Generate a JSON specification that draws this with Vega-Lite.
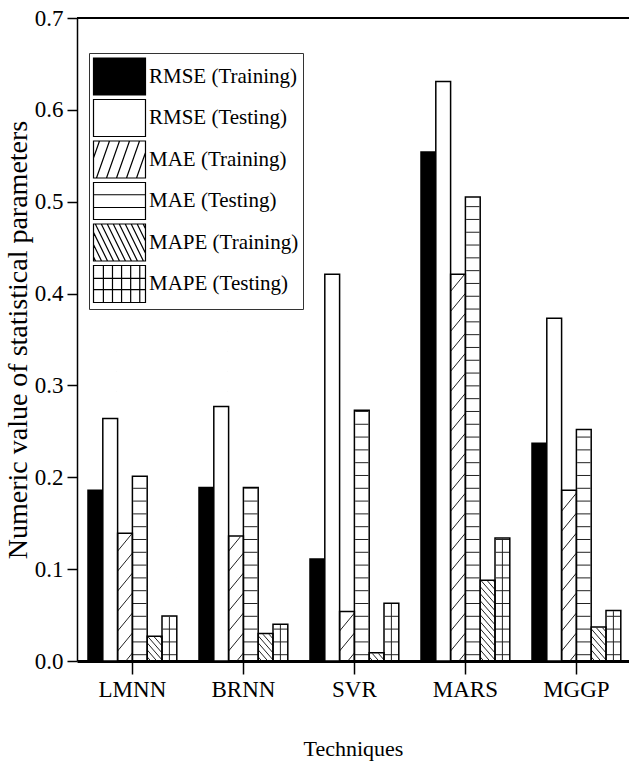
{
  "$schema": "https://vega.github.io/schema/vega-lite/v6.json",
  "autosize": {"type": "none"},
  "padding": {"left": 77, "top": 18, "right": 0, "bottom": 106},
  "width": 552,
  "height": 643,
  "background": "white",
  "config": {
    "font": "Liberation Serif",
    "view": {"stroke": null},
    "axis": {
      "grid": false,
      "domainColor": "black",
      "tickColor": "black",
      "labelColor": "black",
      "titleColor": "black",
      "titleFontWeight": "normal",
      "zindex": 1
    }
  },
  "data": {
    "values": [
      {"technique": "LMNN", "series": "RMSE (Training)", "value": 0.186},
      {"technique": "LMNN", "series": "RMSE (Testing)", "value": 0.264},
      {"technique": "LMNN", "series": "MAE (Training)", "value": 0.139},
      {"technique": "LMNN", "series": "MAE (Testing)", "value": 0.201},
      {"technique": "LMNN", "series": "MAPE (Training)", "value": 0.027},
      {"technique": "LMNN", "series": "MAPE (Testing)", "value": 0.049},
      {"technique": "BRNN", "series": "RMSE (Training)", "value": 0.189},
      {"technique": "BRNN", "series": "RMSE (Testing)", "value": 0.277},
      {"technique": "BRNN", "series": "MAE (Training)", "value": 0.136},
      {"technique": "BRNN", "series": "MAE (Testing)", "value": 0.189},
      {"technique": "BRNN", "series": "MAPE (Training)", "value": 0.030},
      {"technique": "BRNN", "series": "MAPE (Testing)", "value": 0.040},
      {"technique": "SVR", "series": "RMSE (Training)", "value": 0.111},
      {"technique": "SVR", "series": "RMSE (Testing)", "value": 0.421},
      {"technique": "SVR", "series": "MAE (Training)", "value": 0.054},
      {"technique": "SVR", "series": "MAE (Testing)", "value": 0.273},
      {"technique": "SVR", "series": "MAPE (Training)", "value": 0.009},
      {"technique": "SVR", "series": "MAPE (Testing)", "value": 0.063},
      {"technique": "MARS", "series": "RMSE (Training)", "value": 0.554},
      {"technique": "MARS", "series": "RMSE (Testing)", "value": 0.631},
      {"technique": "MARS", "series": "MAE (Training)", "value": 0.421},
      {"technique": "MARS", "series": "MAE (Testing)", "value": 0.505},
      {"technique": "MARS", "series": "MAPE (Training)", "value": 0.088},
      {"technique": "MARS", "series": "MAPE (Testing)", "value": 0.134},
      {"technique": "MGGP", "series": "RMSE (Training)", "value": 0.237},
      {"technique": "MGGP", "series": "RMSE (Testing)", "value": 0.373},
      {"technique": "MGGP", "series": "MAE (Training)", "value": 0.186},
      {"technique": "MGGP", "series": "MAE (Testing)", "value": 0.252},
      {"technique": "MGGP", "series": "MAPE (Training)", "value": 0.037},
      {"technique": "MGGP", "series": "MAPE (Testing)", "value": 0.055}
    ]
  },
  "layer": [
    {
      "transform": [{"filter": {"field": "series", "oneOf": ["MAE (Training)", "MAE (Testing)", "MAPE (Training)", "MAPE (Testing)"]}}],
      "mark": {"type": "point", "filled": false, "stroke": "#222", "strokeWidth": 1, "size": 219.04, "opacity": 1, "clip": true},
      "encoding": {
        "x": {"field": "technique", "type": "nominal", "sort": ["LMNN", "BRNN", "SVR", "MARS", "MGGP"]},
        "xOffset": {"field": "series", "type": "nominal", "sort": ["RMSE (Training)", "RMSE (Testing)", "MAE (Training)", "MAE (Testing)", "MAPE (Training)", "MAPE (Testing)"]},
        "y": {"datum": 0, "type": "quantitative"},
        "shape": {
          "field": "series",
          "type": "nominal",
          "legend": null,
          "scale": {
            "domain": ["MAE (Training)", "MAE (Testing)", "MAPE (Training)", "MAPE (Testing)"],
            "range": [
              "M0.11,0L1,-1.08M-1,-1.35L1,-3.78M-1,-4.05L1,-6.48M-1,-6.75L1,-9.18M-1,-9.45L1,-11.88M-1,-12.15L1,-14.58M-1,-14.85L1,-17.28M-1,-17.55L1,-19.98M-1,-20.25L1,-22.68M-1,-22.95L1,-25.38M-1,-25.65L1,-28.08M-1,-28.35L1,-30.78M-1,-31.05L1,-33.48M-1,-33.75L1,-36.18M-1,-36.45L1,-38.88M-1,-39.15L1,-41.58M-1,-41.85L1,-44.28M-1,-44.55L1,-46.98M-1,-47.25L1,-49.68M-1,-49.95L1,-52.38M-1,-52.65L1,-55.08M-1,-55.35L1,-57.78",
              "M-1,-0.85L1,-0.85M-1,-2.58L1,-2.58M-1,-4.31L1,-4.31M-1,-6.04L1,-6.04M-1,-7.77L1,-7.77M-1,-9.5L1,-9.5M-1,-11.23L1,-11.23M-1,-12.96L1,-12.96M-1,-14.69L1,-14.69M-1,-16.42L1,-16.42M-1,-18.15L1,-18.15M-1,-19.88L1,-19.88M-1,-21.61L1,-21.61M-1,-23.34L1,-23.34M-1,-25.07L1,-25.07M-1,-26.8L1,-26.8M-1,-28.53L1,-28.53M-1,-30.26L1,-30.26M-1,-31.99L1,-31.99M-1,-33.72L1,-33.72M-1,-35.45L1,-35.45M-1,-37.18L1,-37.18M-1,-38.91L1,-38.91M-1,-40.64L1,-40.64M-1,-42.37L1,-42.37M-1,-44.1L1,-44.1M-1,-45.83L1,-45.83M-1,-47.56L1,-47.56M-1,-49.29L1,-49.29M-1,-51.02L1,-51.02M-1,-52.75L1,-52.75M-1,-54.48L1,-54.48M-1,-56.21L1,-56.21M-1,-57.94L1,-57.94M-1,-59.67L1,-59.67M-1,-61.4L1,-61.4M-1,-63.13L1,-63.13M-1,-64.86L1,-64.86",
              "M-1,-0.55L-0.52,0M-1,-1.5L0.3,0M-1,-2.45L1,-0.15M-1,-3.4L1,-1.1M-1,-4.35L1,-2.05M-1,-5.3L1,-3M-1,-6.25L1,-3.95M-1,-7.2L1,-4.9M-1,-8.15L1,-5.85M-1,-9.1L1,-6.8M-1,-10.05L1,-7.75M-1,-11L1,-8.7M-1,-11.95L1,-9.65M-1,-12.9L1,-10.6M-1,-13.85L1,-11.55",
              "M-1,-0.85L1,-0.85M-1,-2.58L1,-2.58M-1,-4.31L1,-4.31M-1,-6.04L1,-6.04M-1,-7.77L1,-7.77M-1,-9.5L1,-9.5M-1,-11.23L1,-11.23M-1,-12.96L1,-12.96M-1,-14.69L1,-14.69M-1,-16.42L1,-16.42M-1,-18.15L1,-18.15M0,0L0,-18.2"
            ]
          }
        }
      }
    },
    {
      "transform": [{"filter": {"field": "series", "oneOf": ["MAE (Training)", "MAE (Testing)", "MAPE (Training)", "MAPE (Testing)"]}}],
      "mark": {"type": "bar", "fill": "white", "stroke": "white", "strokeWidth": 1.5},
      "encoding": {
        "x": {"field": "technique", "type": "nominal", "sort": ["LMNN", "BRNN", "SVR", "MARS", "MGGP"]},
        "xOffset": {"field": "series", "type": "nominal", "sort": ["RMSE (Training)", "RMSE (Testing)", "MAE (Training)", "MAE (Testing)", "MAPE (Training)", "MAPE (Testing)"]},
        "y": {"field": "value", "type": "quantitative"},
        "y2": {"datum": 0.69}
      }
    },
    {
      "mark": {"type": "bar", "stroke": "black", "strokeWidth": 1.5},
      "encoding": {
        "x": {
          "field": "technique",
          "type": "nominal",
          "sort": ["LMNN", "BRNN", "SVR", "MARS", "MGGP"],
          "scale": {"paddingInner": 0.2, "paddingOuter": 0.0865, "align": 0.573},
          "axis": {
            "title": "Techniques",
            "labelAngle": 0,
            "labelAlign": "center",
            "labelBaseline": "top",
            "tickSize": 13,
            "tickWidth": 1.5,
            "domainWidth": 3,
            "labelFontSize": 23,
            "labelPadding": 4,
            "titleFontSize": 22,
            "titlePadding": 37
          }
        },
        "xOffset": {
          "field": "series",
          "type": "nominal",
          "sort": ["RMSE (Training)", "RMSE (Testing)", "MAE (Training)", "MAE (Testing)", "MAPE (Training)", "MAPE (Testing)"],
          "scale": {"paddingInner": 0, "paddingOuter": 0}
        },
        "y": {
          "field": "value",
          "type": "quantitative",
          "scale": {"domain": [0, 0.7], "nice": false},
          "axis": {
            "title": "Numeric value of statistical parameters",
            "values": [0, 0.1, 0.2, 0.3, 0.4, 0.5, 0.6, 0.7],
            "format": ".1f",
            "tickSize": 10,
            "tickWidth": 1.5,
            "domainWidth": 1.5,
            "labelFontSize": 23,
            "labelPadding": 4,
            "titleFontSize": 28,
            "titlePadding": 2
          }
        },
        "fill": {
          "field": "series",
          "type": "nominal",
          "scale": {
            "domain": ["RMSE (Training)", "RMSE (Testing)", "MAE (Training)", "MAE (Testing)", "MAPE (Training)", "MAPE (Testing)"],
            "range": ["#000000", "#ffffff", "transparent", "transparent", "transparent", "transparent"]
          },
          "legend": {
            "title": null,
            "orient": "none",
            "legendX": 12,
            "legendY": 35,
            "direction": "vertical",
            "padding": 4,
            "strokeColor": "#333",
            "fillColor": "white",
            "symbolSize": 1369,
            "symbolOffset": 7,
            "symbolStrokeColor": "black",
            "symbolStrokeWidth": 1.2,
            "labelFontSize": 21,
            "labelColor": "black",
            "labelOffset": 10,
            "labelLimit": 400,
            "rowPadding": -1.5,
            "encode": {
              "symbols": {
                "update": {
                  "shape": [
                    {"test": "datum.value === 'MAE (Training)'", "value": "M-1.405,-1L1.405,-1L1.405,1L-1.405,1ZM-1.405,-0.084L-1.082,-1M-1.244,1L-0.541,-1M-0.703,1L0,-1M-0.162,1L0.541,-1M0.379,1L1.082,-1M0.921,1L1.405,-0.379"},
                    {"test": "datum.value === 'MAE (Testing)'", "value": "M-1.405,-1L1.405,-1L1.405,1L-1.405,1ZM-1.405,-0.337L1.405,-0.337M-1.405,0.351L1.405,0.351"},
                    {"test": "datum.value === 'MAPE (Training)'", "value": "M-1.405,-1L1.405,-1L1.405,1L-1.405,1ZM-1.405,0.773L-1.293,1M-1.405,0.112L-0.97,1M-1.405,-0.548L-0.646,1M-1.307,-1L-0.323,1M-0.984,-1L0,1M-0.661,-1L0.323,1M-0.337,-1L0.646,1M-0.014,-1L0.97,1M0.309,-1L1.293,1M0.632,-1L1.405,0.576M0.956,-1L1.405,-0.084M1.279,-1L1.405,-0.745"},
                    {"test": "datum.value === 'MAPE (Testing)'", "value": "M-1.405,-1L1.405,-1L1.405,1L-1.405,1ZM-0.871,-1L-0.871,1M-0.379,-1L-0.379,1M0.112,-1L0.112,1M0.604,-1L0.604,1M1.096,-1L1.096,1M-1.405,-0.309L1.405,-0.309M-1.405,0.309L1.405,0.309"},
                    {"value": "M-1.405,-1L1.405,-1L1.405,1L-1.405,1Z"}
                  ],
                  "fill": [
                    {"test": "datum.value === 'RMSE (Training)'", "value": "black"},
                    {"value": "white"}
                  ],
                  "stroke": {"value": "black"},
                  "strokeWidth": {"value": 1.2},
                  "opacity": {"value": 1}
                }
              }
            }
          }
        }
      }
    },
    {
      "mark": {"type": "rule", "stroke": "black", "strokeWidth": 1.5},
      "encoding": {"y": {"datum": 0.7, "type": "quantitative"}}
    }
  ]
}
